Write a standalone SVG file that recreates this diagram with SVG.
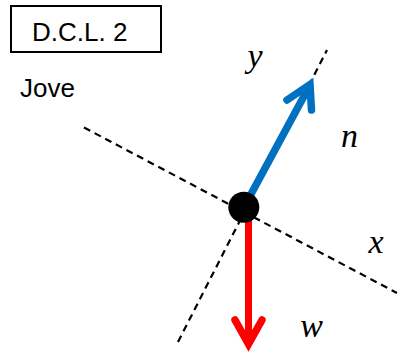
<svg xmlns="http://www.w3.org/2000/svg" width="398" height="354" viewBox="0 0 398 354">
<style>
.lbl{font-family:"Liberation Sans",Arial,sans-serif;font-size:26px;fill:#000}
.math{font-family:"Liberation Serif","Times New Roman",serif;font-style:italic;font-size:34px;fill:#000;text-anchor:middle}
.axis{stroke:#000;stroke-width:2.2;stroke-dasharray:7,5;fill:none}
.head{fill:none;stroke-width:7.5;stroke-linejoin:miter;stroke-linecap:round}
</style>
<rect width="398" height="354" fill="#fff"/>
<g id="title">
<rect x="11" y="6" width="150" height="46" fill="none" stroke="#000" stroke-width="2"/>
<text class="lbl" x="32" y="41">D.C.L. 2</text>
</g>
<g id="jove"><text class="lbl" x="20" y="96.5">Jove</text></g>
<g id="connectors">
<line class="axis" x1="84" y1="127.5" x2="397" y2="293"/>
<line class="axis" x1="178" y1="342" x2="327" y2="50"/>
<line x1="250" y1="196" x2="310" y2="85" stroke="#0070C0" stroke-width="7.5"/>
<polyline class="head" stroke="#0070C0" points="287,100 310,84.5 311.5,110"/>
<line x1="248.5" y1="215" x2="248.5" y2="343" stroke="#FF0000" stroke-width="7"/>
<polyline class="head" stroke="#FF0000" points="235,320 248.5,344 262,320"/>
</g>
<g id="body"><circle cx="243.8" cy="207.3" r="15.5" fill="#000"/></g>
<g id="labels">
<text class="math" x="255" y="67">y</text>
<text class="math" x="349.5" y="146.5">n</text>
<text class="math" x="376" y="252.5">x</text>
<text class="math" x="311.5" y="336.5">w</text>
</g>
</svg>
